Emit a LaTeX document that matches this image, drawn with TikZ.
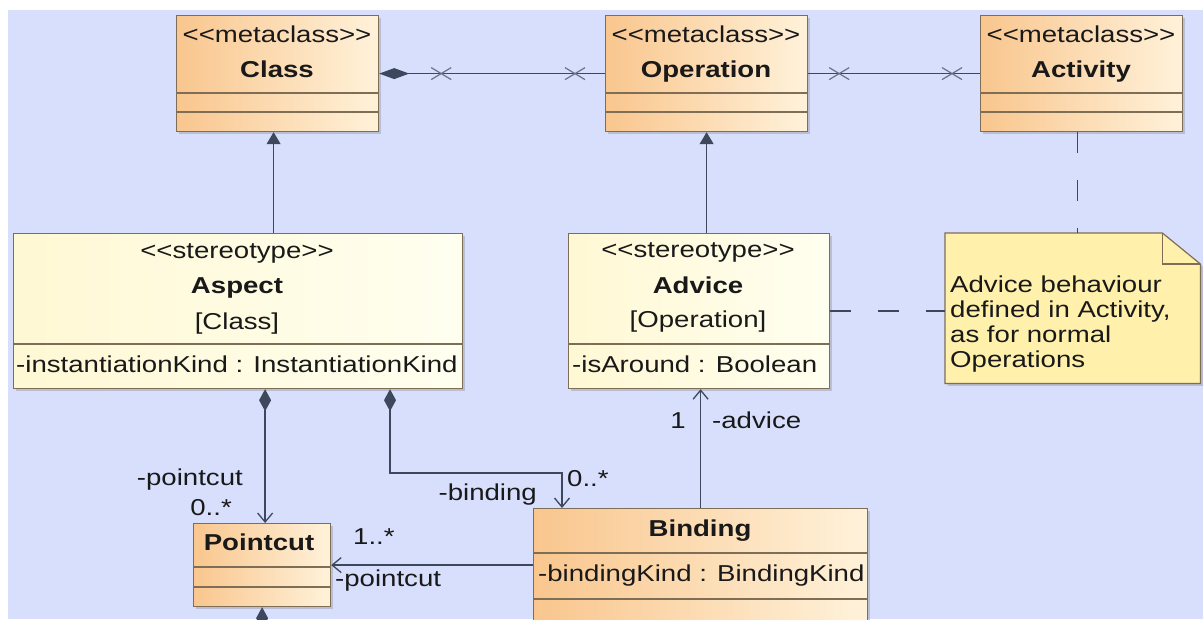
\documentclass[tikz,border=0pt]{standalone}
\usepackage{fontspec}
\setmainfont[FakeStretch=1.2]{Liberation Sans}
\usetikzlibrary{arrows.meta,calc,shadows}

\definecolor{canvas}{RGB}{216,223,252}
\definecolor{metaL}{RGB}{249,198,142}
\definecolor{metaR}{RGB}{255,242,218}
\definecolor{stereoL}{RGB}{255,248,212}
\definecolor{stereoR}{RGB}{255,255,240}
\definecolor{notefill}{RGB}{255,240,172}
\definecolor{boxline}{RGB}{125,110,85}
\definecolor{wireC}{RGB}{62,72,92}
\definecolor{crossC}{RGB}{105,115,135}

% guillemet-like double angle brackets without the TeX ligature
\newcommand{\guil}[1]{<\kern0pt<#1>\kern0pt>}

\begin{document}
\begin{tikzpicture}[x=1pt,y=-1pt,
  font=\fontsize{23}{27}\selectfont,
  shadowed/.style={drop shadow={shadow xshift=2.5pt,shadow yshift=-2.5pt,opacity=0.3,fill=black!55}},
  umlbox/.style={draw=boxline,line width=1.2pt,anchor=north west,inner sep=0pt,shadowed},
  metabox/.style={umlbox,left color=metaL,right color=metaR},
  stereobox/.style={umlbox,left color=stereoL,right color=stereoR},
  sep/.style={draw=boxline,line width=1.2pt},
  lbl/.style={inner sep=0pt,anchor=base,text=black!90},
  lblw/.style={lbl,anchor=base west},
  lble/.style={lbl,anchor=base east},
  wire/.style={draw=wireC,line width=1.3pt},
  gen/.style={wire,-{Triangle[length=12pt,width=14pt]}},
  nav/.style={wire,-{Straight Barb[length=9pt,width=15pt]}},
  comp/.style={wire,{Diamond[length=22pt,width=12pt]}-{Straight Barb[length=9pt,width=15pt]}},
  notelink/.style={wire,dash pattern=on 21pt off 27pt},
  xmark/.pic={\draw[crossC,line width=1.2pt] (-10,-6) -- (10,6) (-10,6) -- (10,-6);}
]
\useasboundingbox (0,0) rectangle (1203,619);
\fill[white] (0,0) rectangle (1203,619);
\fill[canvas] (8,10) rectangle (1203,619);

% ---- metaclasses ----
\node[metabox,minimum width=202pt,minimum height=116pt] (class) at (176,15) {};
\node[metabox,minimum width=202pt,minimum height=116pt] (operation) at (605,15) {};
\node[metabox,minimum width=202pt,minimum height=116pt] (activity) at (980,15) {};
\foreach \b in {class,operation,activity}{
  \draw[sep] (\b.west |- 0,93) -- (\b.east |- 0,93);
  \draw[sep] (\b.west |- 0,112) -- (\b.east |- 0,112);
}
\node[lbl] (classST) at (277,42) {\guil{metaclass}};
\node[lbl] (classNm) at (277,77) {\textbf{Class}};
\node[lbl] (opST) at (706,42) {\guil{metaclass}};
\node[lbl] (opNm) at (706,77) {\textbf{Operation}};
\node[lbl] (actST) at (1081,42) {\guil{metaclass}};
\node[lbl] (actNm) at (1081,77) {\textbf{Activity}};

% ---- stereotypes ----
\node[stereobox,minimum width=449pt,minimum height=155pt] (aspect) at (13,233) {};
\node[stereobox,minimum width=261pt,minimum height=155pt] (advice) at (568,233) {};
\draw[sep] (aspect.west |- 0,344) -- (aspect.east |- 0,344);
\draw[sep] (advice.west |- 0,344) -- (advice.east |- 0,344);
\node[lbl] (aspST) at (237,258) {\guil{stereotype}};
\node[lbl] (aspNm) at (237,293) {\textbf{Aspect}};
\node[lbl] (aspMeta) at (237,329) {[Class]};
\node[lblw] (aspAttr) at (16,372) {-instantiationKind : InstantiationKind};
\node[lbl] (advST) at (698,257) {\guil{stereotype}};
\node[lbl] (advNm) at (698,293) {\textbf{Advice}};
\node[lbl] (advMeta) at (698,327) {[Operation]};
\node[lblw] (advAttr) at (572,372) {-isAround : Boolean};

% ---- note ----
\node[anchor=north west,inner sep=0pt,minimum width=255pt,minimum height=150pt] (note) at (945,233) {};
\path[draw=boxline,line width=1.2pt,fill=notefill,shadowed]
  (note.north west) -- ($(note.north east)+(-38,0)$) -- ($(note.north east)+(0,31)$)
  -- (note.south east) -- (note.south west) -- cycle;
\draw[sep] ($(note.north east)+(-38,0)$) -- ($(note.north east)+(-38,31)$) -- ($(note.north east)+(0,31)$);
\node[lblw] (noteA) at (950,292) {Advice behaviour};
\node[lblw] (noteB) at (950,317) {defined in Activity,};
\node[lblw] (noteC) at (950,342) {as for normal};
\node[lblw] (noteD) at (950,367) {Operations};

% ---- plain classes ----
\node[metabox,minimum width=137pt,minimum height=83pt] (pointcut) at (193,523) {};
\draw[sep] (pointcut.west |- 0,567) -- (pointcut.east |- 0,567);
\draw[sep] (pointcut.west |- 0,587) -- (pointcut.east |- 0,587);
\node[lbl] (pcNm) at (259,550) {\textbf{Pointcut}};

\node[metabox,minimum width=334pt,minimum height=117pt] (binding) at (533,508) {};
\draw[sep] (binding.west |- 0,553) -- (binding.east |- 0,553);
\draw[sep] (binding.west |- 0,599) -- (binding.east |- 0,599);
\node[lbl] (bdNm) at (700,536) {\textbf{Binding}};
\node[lblw] (bdAttr) at (538,581) {-bindingKind : BindingKind};

% ---- generalizations ----
\coordinate (classFoot) at ($(class.south)+(-4,0)$);
\draw[gen] (classFoot |- aspect.north) -- (classFoot);
\draw[gen] (operation.south |- advice.north) -- (operation.south);

% ---- associations between metaclasses ----
\draw[wire,{Diamond[length=30pt,width=11pt]}-] (class.east) -- (operation.west);
\draw[wire] (operation.east) -- (activity.west);
\pic at ($(class.east)+(62,0)$) {xmark};
\pic at ($(operation.west)+(-30,0)$) {xmark};
\pic at ($(operation.east)+(31,0)$) {xmark};
\pic at ($(activity.west)+(-28,0)$) {xmark};

% ---- note anchors ----
\coordinate (actFoot) at ($(activity.south)+(-4,0)$);
\draw[notelink] (actFoot) -- (actFoot |- note.north);
\draw[notelink] (advice.east) -- (advice.east -| note.west);

% ---- compositions and associations ----
\coordinate (pcTop) at ($(pointcut.north)+(3,0)$);
\draw[comp] (pcTop |- aspect.south) -- (pcTop);
\coordinate (bindS) at ($(aspect.south west)+(377,0)$);
\coordinate (bindE) at ($(binding.north west)+(29,0)$);
\draw[comp] (bindS) |- ($(bindE)+(0,-35)$) -- (bindE);
\draw[nav] (binding.north) -- (binding.north |- advice.south);
\draw[nav] (binding.west |- pointcut.east) -- (pointcut.east);
\coordinate (pcBelow) at ($(pointcut.south)+(0,40)$);
\draw[wire,{Diamond[length=22pt,width=12pt]}-] (pointcut.south) -- (pcBelow);

% ---- end labels ----
\node[lble] (lPc1) at (243,485) {-pointcut};
\node[lble] (lPc1m) at (232,515) {0..*};
\node[lble] (lBd) at (537,500) {-binding};
\node[lblw] (lBdm) at (567,486) {0..*};
\node[lble] (lAdm) at (686,428) {1};
\node[lblw] (lAd) at (712,428) {-advice};
\node[lblw] (lPc2m) at (353,544) {1..*};
\node[lblw] (lPc2) at (335,586) {-pointcut};
\end{tikzpicture}
\end{document}
